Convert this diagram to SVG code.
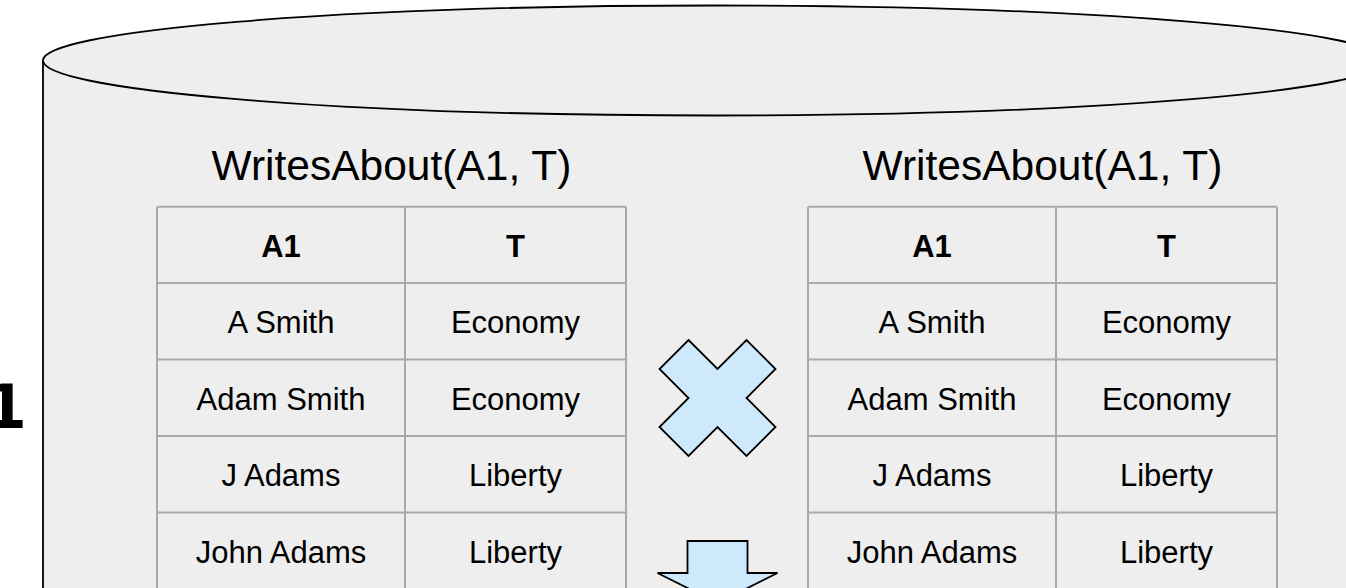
<svg xmlns="http://www.w3.org/2000/svg" width="1346" height="588" viewBox="0 0 1346 588">
<style>
.cyl{fill:#eeeeee;stroke:#000;stroke-width:1.8}
.grid{fill:none;stroke:#a9a9a9;stroke-width:2}
.title{font-family:"Liberation Sans",Arial,sans-serif;font-size:42.5px;fill:#000;text-anchor:middle}
.hd{font-family:"Liberation Sans",Arial,sans-serif;font-size:31px;font-weight:bold;fill:#000;text-anchor:middle}
.cell{font-family:"Liberation Sans",Arial,sans-serif;font-size:31px;fill:#000;text-anchor:middle}
.op{fill:#cfe9fc;stroke:#000;stroke-width:1.8;stroke-linejoin:miter}
</style>
<rect x="0" y="0" width="1346" height="588" fill="#fff"/>
<text x="-15" y="428" font-family="DejaVu Sans,sans-serif" font-size="60" font-weight="bold" fill="#000">1</text>
<g id="database">
<path class="cyl" d="M43,60.5 A671,55 0 0 1 1385,60.5 L1385,660 L43,660 Z"/>
<path class="cyl" d="M43,60.5 A671,55 0 0 0 1385,60.5" fill="none"/>
</g>
<g id="table-left">
<text class="title" x="391.5" y="180">WritesAbout(A1, T)</text>
<path class="grid" d="M157,206.7 H626 M157,283 H626 M157,359.5 H626 M157,436 H626 M157,512.5 H626 M157,589 H626 M157,206.7 V600 M405,206.7 V600 M626,206.7 V600"/>
<text class="hd" x="281" y="256.5">A1</text>
<text class="hd" x="515.5" y="256.5">T</text>
<text class="cell" x="281" y="333">A Smith</text>
<text class="cell" x="515.5" y="333">Economy</text>
<text class="cell" x="281" y="409.5">Adam Smith</text>
<text class="cell" x="515.5" y="409.5">Economy</text>
<text class="cell" x="281" y="486">J Adams</text>
<text class="cell" x="515.5" y="486">Liberty</text>
<text class="cell" x="281" y="562.5">John Adams</text>
<text class="cell" x="515.5" y="562.5">Liberty</text>
</g>
<g id="table-right">
<text class="title" x="1042.5" y="180">WritesAbout(A1, T)</text>
<path class="grid" d="M808,206.7 H1277 M808,283 H1277 M808,359.5 H1277 M808,436 H1277 M808,512.5 H1277 M808,589 H1277 M808,206.7 V600 M1056,206.7 V600 M1277,206.7 V600"/>
<text class="hd" x="932" y="256.5">A1</text>
<text class="hd" x="1166.5" y="256.5">T</text>
<text class="cell" x="932" y="333">A Smith</text>
<text class="cell" x="1166.5" y="333">Economy</text>
<text class="cell" x="932" y="409.5">Adam Smith</text>
<text class="cell" x="1166.5" y="409.5">Economy</text>
<text class="cell" x="932" y="486">J Adams</text>
<text class="cell" x="1166.5" y="486">Liberty</text>
<text class="cell" x="932" y="562.5">John Adams</text>
<text class="cell" x="1166.5" y="562.5">Liberty</text>
</g>
<g id="cross">
<polygon class="op" points="688.5,340 717.5,369 746.5,340 775.5,369 746.5,398 775.5,427 746.5,456 717.5,427 688.5,456 659.5,427 688.5,398 659.5,369"/>
</g>
<g id="connectors">
<polygon class="op" points="687.5,541 747.5,541 747.5,573 777.5,573 717.5,603 657.5,573 687.5,573"/>
</g>
</svg>
